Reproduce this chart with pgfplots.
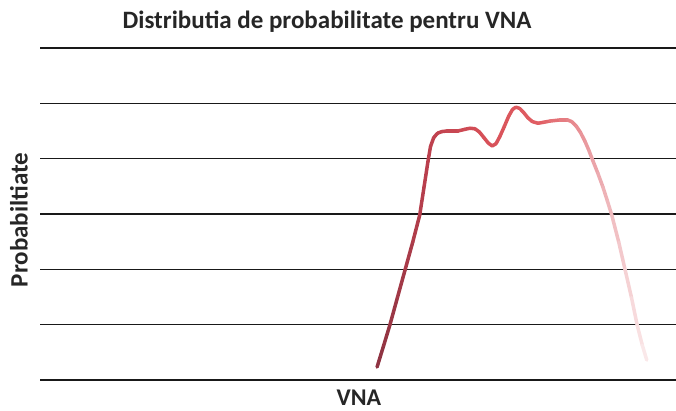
\documentclass[border=0pt]{standalone}
\usepackage{fontspec}
\setmainfont{Carlito}
\usepackage{pgfplots}
\pgfplotsset{compat=1.18}
\begin{document}
\begin{tikzpicture}
\path[use as bounding box] (-40pt,-31pt) rectangle (636pt,380pt);
\begin{axis}[
  scale only axis, width=636pt, height=332pt,
  xmin=0, xmax=100, ymin=0, ymax=6,
  axis lines=none,
  clip=false,
  colormap={grad}{rgb255=(140,50,65) rgb255=(190,65,78) rgb255=(215,80,88) rgb255=(225,95,100) rgb255=(235,165,170) rgb255=(252,240,240)},
]
\foreach \yy in {0,...,6} {
  \edef\tmp{\noexpand\addplot[black!90, line width=1.5pt, forget plot] coordinates {(0,\yy) (100,\yy)};}
  \tmp
}
\addplot[mesh, point meta=x, point meta min=53, point meta max=96, line width=3.5pt, line cap=round, line join=round] coordinates {
(53.0,0.235) (54.0,0.61) (55.0,0.99) (56.2,1.49) (57.4,1.99) (58.6,2.49) (59.7,2.98)
(60.4,3.50) (61.0,3.95) (61.4,4.22) (61.9,4.38) (62.5,4.46) (63.2,4.49) (64.0,4.50) (65.7,4.50) (66.8,4.53) (67.6,4.55)
(68.4,4.54) (69.1,4.48) (69.8,4.38) (70.5,4.28) (71.1,4.23) (71.7,4.27) (72.3,4.40) (73.0,4.58) (73.7,4.77) (74.3,4.89) (74.8,4.93) (75.4,4.91) (76.0,4.84)
(76.7,4.74) (77.4,4.67) (78.3,4.64) (79.3,4.66) (80.2,4.68) (81.8,4.70) (82.9,4.70) (83.6,4.67) (84.3,4.59) (85.0,4.47) (85.7,4.31)
(86.3,4.15) (86.9,3.97) (87.7,3.74) (88.5,3.49) (89.2,3.24) (89.9,2.98) (91.0,2.49) (92.0,1.99) (93.0,1.49) (93.9,0.99) (94.7,0.63) (95.4,0.36)
};
\end{axis}
\node[font=\bfseries\fontsize{25}{30}\selectfont, text=black!85] at (287pt,358pt) {Distributia de probabilitate pentru VNA};
\node[font=\bfseries\fontsize{25}{30}\selectfont, text=black!85, rotate=90] at (-21pt,160pt) {Probabiltiate};
\node[font=\bfseries\fontsize{24}{28}\selectfont, text=black!85, anchor=base, inner sep=0pt] at (319pt,-26pt) {VNA};
\end{tikzpicture}
\end{document}
